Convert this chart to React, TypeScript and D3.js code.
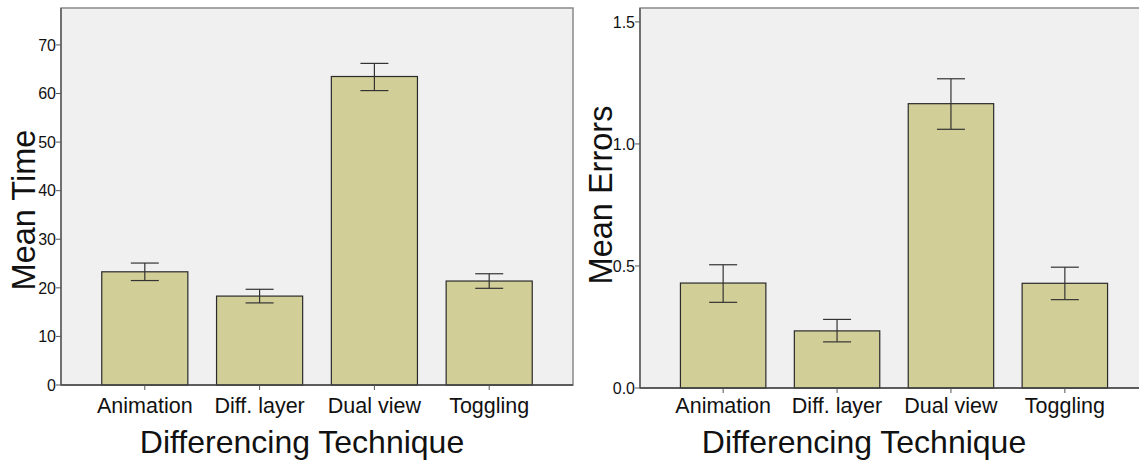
import React from "react";
import * as d3 from "d3";

const categories = ["Animation", "Diff. layer", "Dual view", "Toggling"];

const meanTime = [23.3, 18.3, 63.5, 21.4];
const timeLow = [21.5, 16.9, 60.6, 19.9];
const timeHigh = [25.1, 19.7, 66.2, 22.9];
const timeTicks = [0, 10, 20, 30, 40, 50, 60, 70];

const meanErrors = [0.43, 0.234, 1.165, 0.429];
const errorsLow = [0.351, 0.189, 1.06, 0.362];
const errorsHigh = [0.505, 0.281, 1.267, 0.495];
const errorTicks = [0, 0.5, 1.0, 1.5];

const FONT = "'Liberation Sans', Arial, sans-serif";

type PanelProps = {
  left: number;
  right: number;
  top: number;
  bottom: number;
  yMax: number;
  ticks: number[];
  fmt: (v: number) => string;
  xTitleX: number;
  yTitle: string;
  yTitleX: number;
  yTitleY: number;
  values: number[];
  low: number[];
  high: number[];
};

const Panel = (props: PanelProps) => {
  const { left, right, top, bottom } = props;
  const x = d3
    .scaleBand()
    .domain(categories)
    .range([left, right])
    .paddingInner(0.25)
    .paddingOuter(0.355);
  const y = d3.scaleLinear().domain([0, props.yMax]).range([bottom, top]);
  const cap = 14;

  return (
    <g>
      <rect x={left} y={top} width={right - left} height={bottom - top} fill="#f0f0f0" stroke="#8a8a8a" strokeWidth={1.5} />
      {/* bars */}
      {categories.map((c, i) => (
        <rect
          key={c}
          x={x(c)}
          y={y(props.values[i])}
          width={x.bandwidth()}
          height={bottom - y(props.values[i])}
          fill="#d2ce97"
          stroke="#2a2a2a"
          strokeWidth={1.2}
        />
      ))}
      {/* error bars */}
      {categories.map((c, i) => {
        const cx = (x(c) as number) + x.bandwidth() / 2;
        return (
          <g key={c} stroke="#333" strokeWidth={1.2}>
            <line x1={cx} x2={cx} y1={y(props.low[i])} y2={y(props.high[i])} />
            <line x1={cx - cap} x2={cx + cap} y1={y(props.low[i])} y2={y(props.low[i])} />
            <line x1={cx - cap} x2={cx + cap} y1={y(props.high[i])} y2={y(props.high[i])} />
          </g>
        );
      })}
      {/* axes */}
      <line x1={left} x2={left} y1={top} y2={bottom} stroke="#707070" strokeWidth={2} />
      <line x1={left} x2={right} y1={bottom} y2={bottom} stroke="#444" strokeWidth={1.5} />
      {props.ticks.map(t => (
        <g key={t}>
          <line x1={left - 5} x2={left} y1={y(t)} y2={y(t)} stroke="#555" strokeWidth={1} />
          <text x={left - 5} y={y(t)} dy="0.36em" textAnchor="end" fontSize={16} fontFamily={FONT} fill="#111">
            {props.fmt(t)}
          </text>
        </g>
      ))}
      {categories.map(c => {
        const cx = (x(c) as number) + x.bandwidth() / 2;
        return (
          <g key={c}>
            <line x1={cx} x2={cx} y1={bottom} y2={bottom + 5} stroke="#555" strokeWidth={1} />
            <text x={cx} y={413} textAnchor="middle" fontSize={21.5} fontFamily={FONT} fill="#111">
              {c}
            </text>
          </g>
        );
      })}
      <text x={props.xTitleX} y={453} textAnchor="middle" fontSize={32} fontFamily={FONT} fill="#111">
        Differencing Technique
      </text>
      <text
        transform={`translate(${props.yTitleX},${props.yTitleY}) rotate(-90)`}
        textAnchor="middle"
        fontSize={32.5}
        fontFamily={FONT}
        fill="#111"
      >
        {props.yTitle}
      </text>
    </g>
  );
};

const App = () => {
  return (
    <svg
      width={1139}
      height={462}
      style={{ position: "absolute", left: 0, top: 0, background: "#fff" }}
    >
      <Panel
        left={61}
        right={573}
        top={8}
        bottom={385}
        yMax={77.6}
        ticks={timeTicks}
        fmt={d3.format("d")}
        xTitleX={302}
        yTitle="Mean Time"
        yTitleX={35}
        yTitleY={210}
        values={meanTime}
        low={timeLow}
        high={timeHigh}
      />
      <Panel
        left={640}
        right={1148}
        top={8}
        bottom={388}
        yMax={1.557}
        ticks={errorTicks}
        fmt={d3.format(".1f")}
        xTitleX={864}
        yTitle="Mean Errors"
        yTitleX={612}
        yTitleY={195}
        values={meanErrors}
        low={errorsLow}
        high={errorsHigh}
      />
    </svg>
  );
};

export default App;
